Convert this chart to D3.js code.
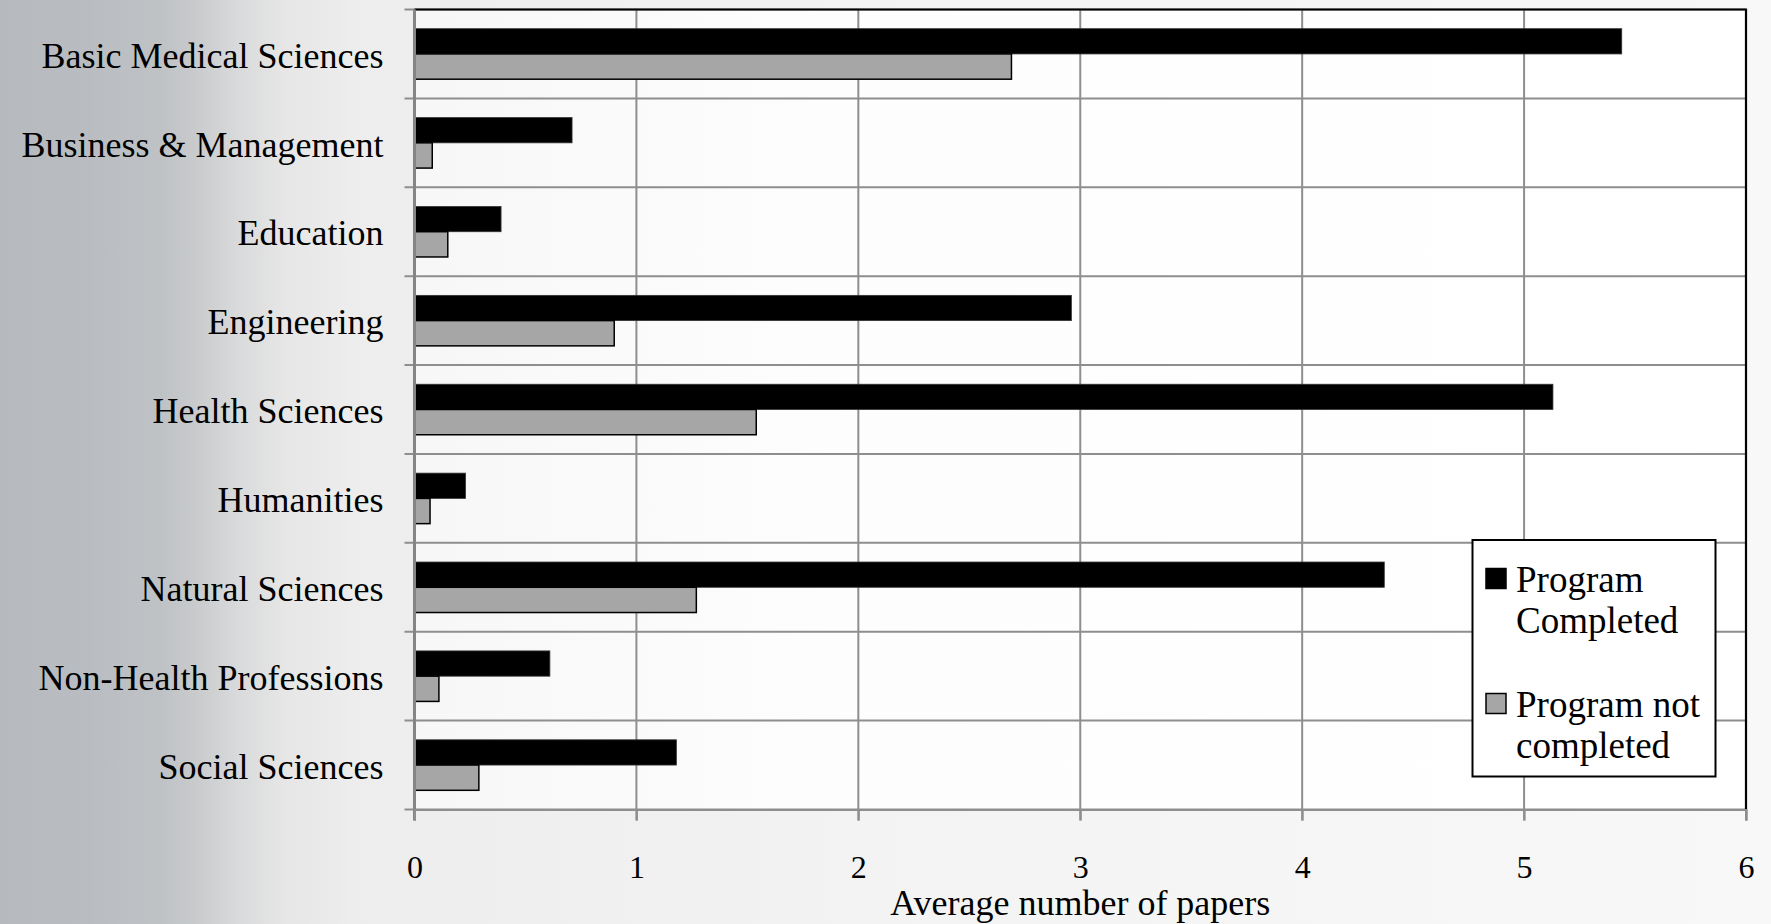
<!DOCTYPE html>
<html>
<head>
<meta charset="utf-8">
<script src="https://cdn.jsdelivr.net/npm/d3@7"></script>
<style>
  html, body { margin: 0; padding: 0; background: #ffffff; }
  svg { display: block; }
  text { font-family: "Liberation Serif", "DejaVu Serif", serif; fill: #000; }
</style>
</head>
<body>
<svg id="chart" width="1771" height="924"></svg>
<script>
// ---- data ----
const categories = [
  "Basic Medical Sciences",
  "Business & Management",
  "Education",
  "Engineering",
  "Health Sciences",
  "Humanities",
  "Natural Sciences",
  "Non-Health Professions",
  "Social Sciences"
];
const seriesNames = ["Program Completed", "Program not completed"];
const legendLines = [["Program", "Completed"], ["Program not", "completed"]];
const completed    = [5.44, 0.71, 0.39, 2.96, 5.13, 0.23, 4.37, 0.61, 1.18];
const notCompleted = [2.69, 0.08, 0.15, 0.90, 1.54, 0.07, 1.27, 0.11, 0.29];
const xTicks = [0, 1, 2, 3, 4, 5, 6];
const xTitle = "Average number of papers";

// ---- layout ----
const W = 1771, H = 924;
const pLeft = 414.5, pRight = 1746, pTop = 9.5, pBottom = 809.5;
const svg = d3.select("#chart");

// background gradient (slide backdrop)
const defs = svg.append("defs");
const bg = defs.append("linearGradient").attr("id", "bg").attr("x1", "0").attr("x2", "1").attr("y1", "0").attr("y2", "0");
[[0, "#b6babe"], [0.05, "#b9bdc1"], [0.09, "#bfc2c5"], [0.11, "#c8cacc"], [0.135, "#d9dadb"], [0.16, "#e6e6e6"], [0.2, "#ededed"], [0.5, "#f3f3f3"], [1, "#f8f8f8"]]
  .forEach(([o, c]) => bg.append("stop").attr("offset", o).attr("stop-color", c));
svg.append("rect").attr("width", W).attr("height", H).attr("fill", "url(#bg)");

const pg = defs.append("linearGradient").attr("id", "pg").attr("x1", "0").attr("x2", "1").attr("y1", "0").attr("y2", "0");
[[0, "#f7f7f7"], [0.3, "#fdfdfd"], [1, "#ffffff"]]
  .forEach(([o, c]) => pg.append("stop").attr("offset", o).attr("stop-color", c));

// ---- scales ----
const x = d3.scaleLinear().domain([0, 6]).range([pLeft, pRight]);
const y0 = d3.scaleBand().domain(categories).range([pTop, pBottom]).padding(0);
const y1 = d3.scaleBand().domain(seriesNames).range([0, y0.bandwidth()]).paddingInner(0).paddingOuter(0.76);

// plot area
svg.append("rect").attr("x", pLeft).attr("y", pTop).attr("width", pRight - pLeft).attr("height", pBottom - pTop)
  .attr("fill", "url(#pg)");

const gridColor = "#8e8e8e";
// vertical gridlines
svg.append("g").selectAll("line").data(xTicks.slice(1)).join("line")
  .attr("x1", d => x(d)).attr("x2", d => x(d)).attr("y1", pTop).attr("y2", pBottom + 11)
  .attr("stroke", gridColor).attr("stroke-width", 2);
// horizontal gridlines at band boundaries (with tick stubs to the left)
const boundaries = categories.map(c => y0(c)).concat([pBottom]);
svg.append("g").selectAll("line").data(boundaries).join("line")
  .attr("x1", pLeft - 10).attr("x2", pRight).attr("y1", d => d).attr("y2", d => d)
  .attr("stroke", gridColor).attr("stroke-width", 2);

// bars
const rows = categories.map((c, i) => ({ c, vals: [completed[i], notCompleted[i]] }));
const fills = ["#000000", "#a6a6a6"];
const g = svg.append("g");
rows.forEach(r => {
  r.vals.forEach((v, j) => {
    g.append("rect")
      .attr("x", x(0))
      .attr("y", y0(r.c) + y1(seriesNames[j]))
      .attr("width", x(v) - x(0))
      .attr("height", y1.bandwidth())
      .attr("fill", fills[j])
      .attr("stroke", j === 1 ? "#000" : "#333")
      .attr("stroke-width", j === 1 ? 1.5 : 0.8);
  });
});

// top & right border
svg.append("path").attr("d", `M${pLeft},${pTop}H${pRight}V${pBottom}`)
  .attr("fill", "none").attr("stroke", "#000").attr("stroke-width", 2.2);

// left axis line
svg.append("line").attr("x1", pLeft).attr("x2", pLeft).attr("y1", pTop).attr("y2", pBottom + 11)
  .attr("stroke", "#858585").attr("stroke-width", 3);

// x axis (ticks + labels) via d3 axis
const xAxis = d3.axisBottom(x).tickValues(xTicks).tickSize(11).tickPadding(34).tickFormat(d3.format("d"));
const xa = svg.append("g").attr("transform", `translate(0,${pBottom})`).call(xAxis);
xa.select(".domain").attr("stroke", gridColor).attr("stroke-width", 2);
xa.selectAll(".tick line").attr("stroke", gridColor).attr("stroke-width", 2);
xa.selectAll(".tick text").attr("font-size", 32).attr("font-family", "Liberation Serif").attr("fill", "#000").attr("dy", "0.72em");

// y labels via d3 axis
const yAxis = d3.axisLeft(y0).tickSize(0).tickPadding(31);
const ya = svg.append("g").attr("transform", `translate(${pLeft},0)`).call(yAxis);
ya.select(".domain").remove();
ya.selectAll(".tick text").attr("font-size", 36).attr("font-family", "Liberation Serif").attr("fill", "#000").attr("dy", "0.38em");

// x title
svg.append("text").attr("x", (pLeft + pRight) / 2).attr("y", 915).attr("text-anchor", "middle")
  .attr("font-size", 36).text(xTitle);

// legend
const lg = svg.append("g");
lg.append("rect").attr("x", 1472.5).attr("y", 540).attr("width", 243).attr("height", 236.5)
  .attr("fill", "#ffffff").attr("stroke", "#000").attr("stroke-width", 2);
const legY = [568.5, 693.5];
seriesNames.forEach((s, j) => {
  lg.append("rect").attr("x", 1486).attr("y", legY[j]).attr("width", 20).attr("height", 20)
    .attr("fill", fills[j]).attr("stroke", "#000").attr("stroke-width", 1.5);
  legendLines[j].forEach((t, k) => {
    lg.append("text").attr("x", 1516).attr("y", legY[j] + 23 + k * 41).attr("font-size", 37).text(t);
  });
});
</script>
</body>
</html>
